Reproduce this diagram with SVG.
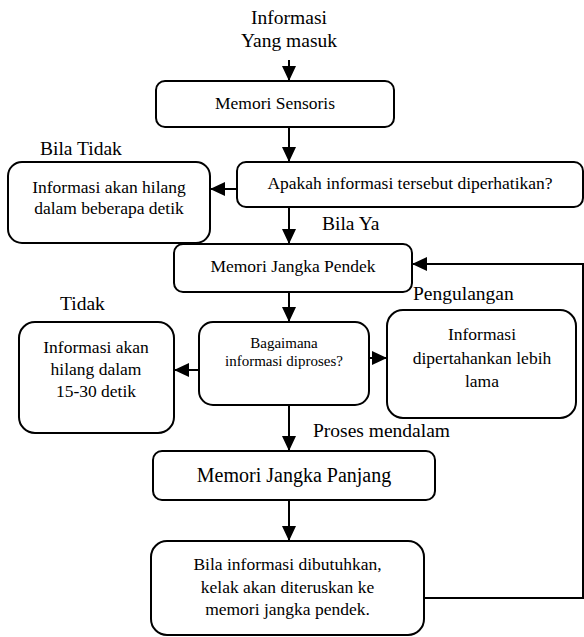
<svg xmlns="http://www.w3.org/2000/svg" width="584" height="637" viewBox="0 0 584 637" font-family="'Liberation Serif', 'Times New Roman', serif">
<defs>
<marker id="ah" markerUnits="userSpaceOnUse" markerWidth="16" markerHeight="16" viewBox="0 0 16 16" refX="15" refY="8" orient="auto">
<path d="M0,1 L15,8 L0,15 Z" fill="#000"/>
</marker>
<style>
.box{fill:#fff;stroke:#000;stroke-width:2}
.t{font-family:'Liberation Serif', 'Times New Roman', serif;font-size:17.5px;fill:#000;text-anchor:middle}
.lbl{font-family:'Liberation Serif', 'Times New Roman', serif;font-size:19.5px;fill:#000}
.c{fill:none;stroke:#000;stroke-width:2}
</style>
</defs>
<rect width="584" height="637" fill="#fff"/>
<g id="connectors">
<line class="c" x1="289" y1="60" x2="289" y2="81" marker-end="url(#ah)"/>
<line class="c" x1="289" y1="127" x2="289" y2="162" marker-end="url(#ah)"/>
<line class="c" x1="237" y1="189" x2="210" y2="189" marker-end="url(#ah)"/>
<line class="c" x1="289" y1="207" x2="289" y2="244" marker-end="url(#ah)"/>
<polyline class="c" points="424,598 583,598 583,264 412,264" marker-end="url(#ah)"/>
<line class="c" x1="289" y1="292" x2="289" y2="322" marker-end="url(#ah)"/>
<line class="c" x1="199" y1="370" x2="174" y2="370" marker-end="url(#ah)"/>
<line class="c" x1="369" y1="358" x2="387" y2="358" marker-end="url(#ah)"/>
<line class="c" x1="289" y1="405" x2="289" y2="451" marker-end="url(#ah)"/>
<line class="c" x1="289" y1="500" x2="289" y2="541" marker-end="url(#ah)"/>
</g>
<g id="labels">
<text class="lbl" x="289" y="24" text-anchor="middle">Informasi</text>
<text class="lbl" x="289" y="47" text-anchor="middle">Yang masuk</text>
<text class="lbl" x="40" y="155">Bila Tidak</text>
<text class="lbl" x="322" y="230">Bila Ya</text>
<text class="lbl" x="60" y="310">Tidak</text>
<text class="lbl" x="413" y="300">Pengulangan</text>
<text class="lbl" x="313" y="437">Proses mendalam</text>
</g>
<g id="memori-sensoris">
<rect class="box" x="156" y="81" width="238" height="46" rx="9"/>
<text class="t" x="275" y="109">Memori Sensoris</text>
</g>
<g id="apakah">
<rect class="box" x="237" y="162" width="346" height="45" rx="9"/>
<text class="t" x="410" y="189">Apakah informasi tersebut diperhatikan?</text>
</g>
<g id="hilang-detik">
<rect class="box" x="8" y="162" width="202" height="81" rx="14"/>
<text class="t" x="109" y="193">Informasi akan hilang</text>
<text class="t" x="109" y="214">dalam beberapa detik</text>
</g>
<g id="memori-jangka-pendek">
<rect class="box" x="174" y="244" width="238" height="48" rx="9"/>
<text class="t" x="293" y="272">Memori Jangka Pendek</text>
</g>
<g id="bagaimana">
<rect class="box" x="199" y="322" width="170" height="83" rx="14"/>
<text class="t" x="284" y="348" style="font-size:15px">Bagaimana</text>
<text class="t" x="284" y="366" style="font-size:15px">informasi diproses?</text>
</g>
<g id="hilang-15-30">
<rect class="box" x="19" y="322" width="155" height="111" rx="16"/>
<text class="t" x="96" y="353">Informasi akan</text>
<text class="t" x="96" y="375">hilang dalam</text>
<text class="t" x="96" y="397">15-30 detik</text>
</g>
<g id="dipertahankan">
<rect class="box" x="387" y="310" width="189" height="108" rx="16"/>
<text class="t" x="482" y="340">Informasi</text>
<text class="t" x="482" y="364">dipertahankan lebih</text>
<text class="t" x="482" y="387">lama</text>
</g>
<g id="memori-jangka-panjang">
<rect class="box" x="153" y="451" width="282" height="49" rx="9"/>
<text class="t" x="294" y="482" style="font-size:20px">Memori Jangka Panjang</text>
</g>
<g id="bila-dibutuhkan">
<rect class="box" x="151" y="541" width="273" height="94" rx="16"/>
<text class="t" x="287.5" y="570">Bila informasi dibutuhkan,</text>
<text class="t" x="287.5" y="593">kelak akan diteruskan ke</text>
<text class="t" x="287.5" y="615">memori jangka pendek.</text>
</g>
</svg>
